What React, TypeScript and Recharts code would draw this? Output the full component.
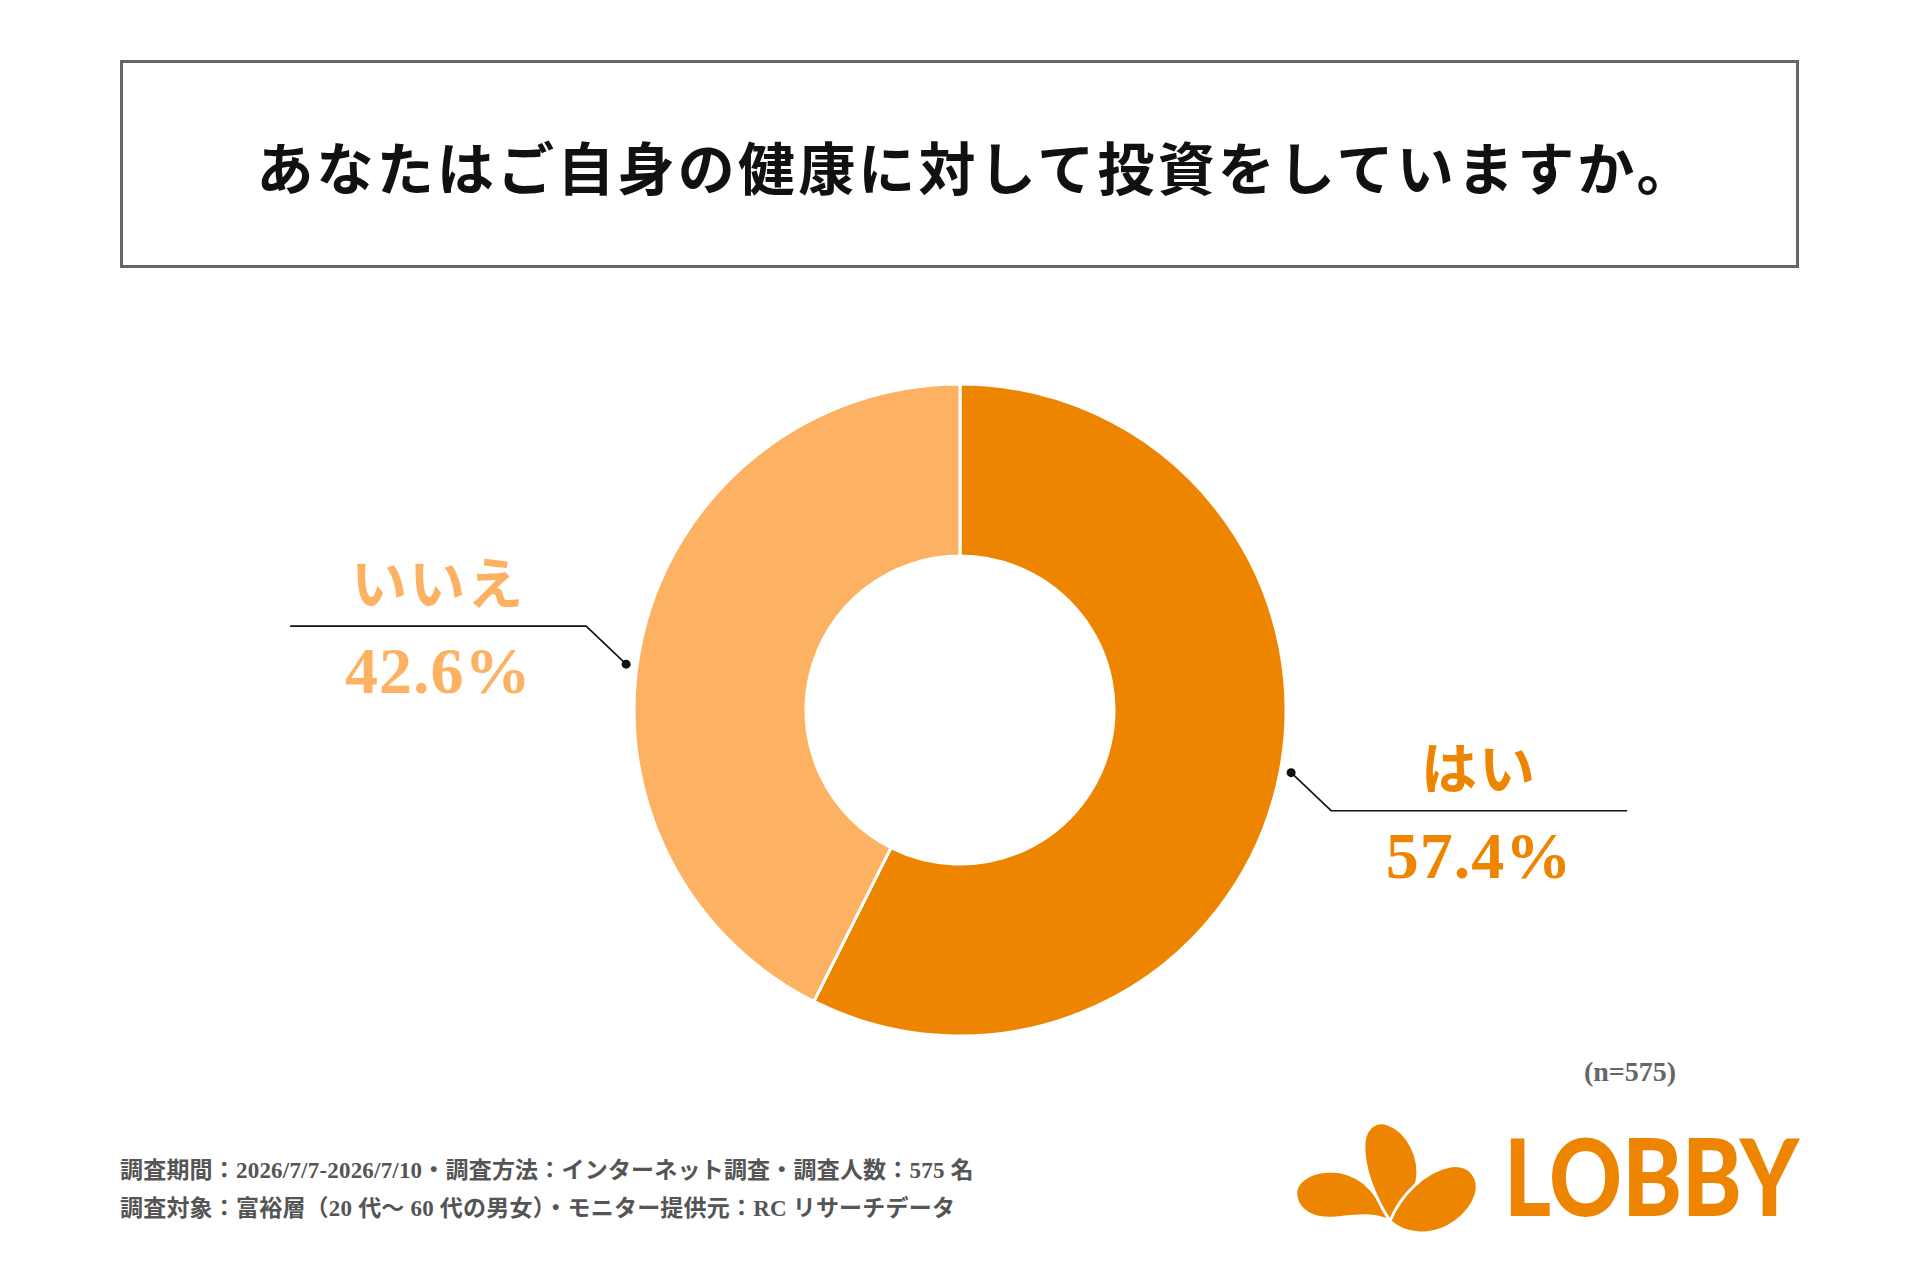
import React from 'react';
import { PieChart, Pie, Cell } from 'recharts';

const title = 'あなたはご自身の健康に対して投資をしていますか。';
const categories = ['はい', 'いいえ'];
const values = [57.4, 42.6];
const colors = ['#EE8500', '#FCB262'];
const sampleNote = '(n=575)';
const footerLines = [
  '調査期間：2026/7/7-2026/7/10・調査方法：インターネット調査・調査人数：575 名',
  '調査対象：富裕層（20 代～ 60 代の男女）・モニター提供元：RC リサーチデータ',
];

const data = categories.map((name, i) => ({ name, value: values[i] }));

const RAD = Math.PI / 180;
const CJK = "'Noto Sans CJK JP', 'Noto Sans', sans-serif";
const SERIF_MIX = "'Liberation Serif', 'Noto Sans CJK JP', serif";

const renderLabel = (props: any) => {
  const { cx, cy, midAngle, outerRadius, index } = props;
  const left = Math.cos(-midAngle * RAD) < 0;
  const a = midAngle + (left ? 5.5 : 2.6);
  const r = outerRadius + 11;
  const dx = r * Math.cos(-a * RAD);
  const dy = r * Math.sin(-a * RAD);
  const x0 = cx + dx;
  const y0 = cy + dy;
  const sx = left ? -1 : 1;
  const sy = dy < 0 ? -1 : 1;
  const x1 = x0 + sx * 40;
  const y1 = y0 + sy * 38;
  const len = 296;
  const x2 = x1 + sx * len;
  const tx = (x1 + x2) / 2;
  const color = colors[index];
  return (
    <g key={`lbl-${index}`}>
      <circle cx={x0} cy={y0} r={4.5} fill="#111" />
      <polyline points={`${x0},${y0} ${x1},${y1} ${x2},${y1}`} fill="none" stroke="#111" strokeWidth={1.6} />
      <text x={tx} y={y1 - 22} textAnchor="middle" fill={color} fontSize={56} fontWeight={700} fontFamily={CJK} letterSpacing={2}>
        {categories[index]}
      </text>
      <text x={tx} y={y1 + 67} textAnchor="middle" fill={color} fontSize={66} fontWeight={700} fontFamily="'Liberation Serif', serif" letterSpacing={1}>
        {`${values[index].toFixed(1)}%`}
      </text>
    </g>
  );
};

export default function App() {
  return (
    <div style={{ position: 'absolute', left: 0, top: 0, width: 1920, height: 1280, background: '#fff', overflow: 'hidden' }}>
      <div style={{ position: 'absolute', left: 0, top: 0 }}>
        <PieChart width={1920} height={1280} margin={{ top: 0, right: 0, bottom: 0, left: 0 }}>
          <Pie
            data={data}
            dataKey="value"
            nameKey="name"
            cx={960}
            cy={710}
            innerRadius={154}
            outerRadius={326}
            startAngle={90}
            endAngle={-270}
            stroke="#ffffff"
            strokeWidth={3}
            label={renderLabel}
            labelLine={false}
            isAnimationActive={false}
          >
            {data.map((d, i) => (
              <Cell key={d.name} fill={colors[i]} />
            ))}
          </Pie>
        </PieChart>
      </div>

      <div
        style={{
          position: 'absolute',
          left: 120,
          top: 60,
          width: 1679,
          height: 208,
          boxSizing: 'border-box',
          border: '3px solid #5F6868',
          paddingLeft: 34,
          paddingTop: 2,
          display: 'flex',
          alignItems: 'center',
          justifyContent: 'center',
          fontFamily: SERIF_MIX,
          fontWeight: 700,
          fontSize: 57,
          letterSpacing: 3.2,
          color: '#111',
        }}
      >
        {title}
      </div>

      <div
        style={{
          position: 'absolute',
          left: 1540,
          top: 1054,
          width: 180,
          textAlign: 'center',
          fontFamily: "'Liberation Serif', serif",
          fontWeight: 700,
          fontSize: 28,
          lineHeight: '36px',
          color: '#666',
        }}
      >
        {sampleNote}
      </div>

      {footerLines.map((t, i) => (
        <div
          key={i}
          style={{
            position: 'absolute',
            left: 120,
            top: 1156 + i * 38,
            fontFamily: SERIF_MIX,
            fontWeight: 700,
            fontSize: 23,
            letterSpacing: 0.2,
            lineHeight: '30px',
            color: '#555',
            whiteSpace: 'nowrap',
          }}
        >
          {t}
        </div>
      ))}

      <svg style={{ position: 'absolute', left: 0, top: 0 }} width={1920} height={1280} pointerEvents="none">
        <g fill="#EE8500" stroke="#fff" strokeWidth={3} strokeLinejoin="round">
          <path d="M1390,1221 C1375,1186 1356,1171 1330,1171 C1306,1172 1294,1184 1296,1196 C1298,1212 1315,1220 1336,1218 C1356,1216 1371,1213 1390,1221 Z" />
          <path d="M1390,1221 C1374,1196 1362,1166 1364,1142 C1366,1126 1377,1120 1388,1124 C1410,1132 1421,1160 1417,1181 C1413,1197 1401,1210 1390,1221 Z" />
          <path d="M1390,1221 C1400,1196 1424,1171 1450,1166 C1470,1163 1481,1178 1476,1195 C1469,1216 1446,1232 1425,1233 C1410,1233 1398,1229 1390,1221 Z" />
        </g>
        <text
          x={1504}
          y={1216}
          textLength={295}
          lengthAdjust="spacingAndGlyphs"
          fontFamily="Lato, 'Open Sans', sans-serif"
          fontWeight={900}
          fontSize={107}
          fill="#EE8500"
        >
          LOBBY
        </text>
      </svg>
    </div>
  );
}
